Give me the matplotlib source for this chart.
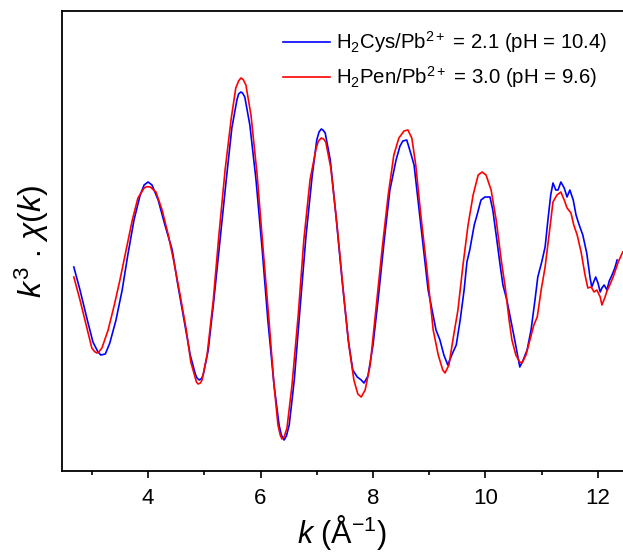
import matplotlib
matplotlib.use("Agg")
import matplotlib.pyplot as plt
from matplotlib.ticker import MultipleLocator, NullLocator

plt.rcParams['font.family'] = ['Liberation Sans', 'DejaVu Sans']
plt.rcParams['mathtext.fontset'] = 'custom'
plt.rcParams['mathtext.rm'] = 'Liberation Sans'
plt.rcParams['mathtext.it'] = 'Liberation Sans:italic'
plt.rcParams['mathtext.bf'] = 'Liberation Sans:bold'

# EXAFS k^3-weighted spectra (arbitrary units)
k_cys = [2.68, 2.79, 2.92, 3.02, 3.11, 3.16, 3.24, 3.32, 3.43, 3.54, 3.64, 3.75, 3.86, 3.93,
         4.00, 4.07, 4.18, 4.30, 4.43, 4.53, 4.64, 4.75, 4.84, 4.87, 4.91, 4.95, 4.98, 5.07,
         5.17, 5.28, 5.39, 5.49, 5.58, 5.61, 5.65, 5.68, 5.72, 5.81, 5.92, 6.03, 6.13, 6.24,
         6.33, 6.37, 6.42, 6.46, 6.51, 6.60, 6.70, 6.81, 6.92, 7.00, 7.04, 7.08, 7.11, 7.15,
         7.24, 7.34, 7.45, 7.56, 7.64, 7.72, 7.79, 7.84, 7.91, 8.00, 8.09, 8.20, 8.30, 8.41,
         8.48, 8.53, 8.60, 8.68, 8.73, 8.80, 8.89, 8.98, 9.05, 9.12, 9.19, 9.26, 9.33, 9.40,
         9.48, 9.55, 9.62, 9.67, 9.72, 9.80, 9.85, 9.92, 9.99, 10.08, 10.13, 10.19, 10.26,
         10.31, 10.38, 10.45, 10.52, 10.58, 10.61, 10.67, 10.74, 10.81, 10.88, 10.93, 11.00,
         11.06, 11.11, 11.16, 11.20, 11.25, 11.29, 11.34, 11.40, 11.45, 11.50, 11.56, 11.61,
         11.66, 11.73, 11.80, 11.86, 11.89, 11.93, 11.96, 12.00, 12.04, 12.07, 12.11, 12.16,
         12.20, 12.25, 12.30, 12.34]
chi_cys = [0.20, -0.95, -2.45, -3.55, -4.05, -4.20, -4.15, -3.60, -2.45, -0.95, 0.80, 2.55,
           3.80, 4.30, 4.45, 4.30, 3.55, 2.30, 1.05, -0.70, -2.45, -4.20, -5.15, -5.35, -5.45,
           -5.38, -5.20, -3.95, -1.45, 1.55, 4.55, 7.15, 8.55, 8.85, 8.95, 8.90, 8.70, 7.30,
           4.55, 1.05, -2.45, -5.70, -7.70, -8.20, -8.45, -8.25, -7.70, -5.45, -1.95, 1.80,
           4.80, 6.55, 6.95, 7.10, 7.05, 6.90, 5.55, 2.80, -0.45, -3.45, -4.95, -5.30, -5.45,
           -5.60, -5.25, -3.70, -1.45, 1.55, 4.05, 5.55, 6.25, 6.50, 6.55, 5.80, 5.30, 3.55,
           1.30, -0.95, -1.95, -2.95, -3.45, -4.20, -4.70, -4.20, -3.70, -2.45, -0.95, 0.45,
           1.05, 2.30, 2.80, 3.55, 3.70, 3.70, 3.05, 1.80, 0.30, -0.70, -1.45, -2.45, -3.45,
           -4.35, -4.80, -4.45, -3.95, -2.95, -1.45, -0.30, 0.45, 1.20, 2.55, 3.80, 4.40, 4.05,
           4.05, 4.45, 4.15, 3.70, 4.05, 3.55, 2.80, 2.35, 1.80, 0.90, -0.35, -0.80, -0.50,
           -0.30, -0.60, -1.05, -0.85, -0.70, -0.95, -0.50, -0.20, 0.15, 0.55]

k_pen = [2.68, 2.79, 2.92, 3.00, 3.05, 3.09, 3.13, 3.18, 3.29, 3.40, 3.50, 3.61, 3.72, 3.82,
         3.93, 3.98, 4.04, 4.14, 4.25, 4.36, 4.46, 4.57, 4.68, 4.76, 4.84, 4.86, 4.89, 4.93,
         4.96, 5.05, 5.16, 5.26, 5.37, 5.48, 5.56, 5.61, 5.65, 5.69, 5.74, 5.83, 5.94, 6.04,
         6.15, 6.24, 6.31, 6.35, 6.38, 6.42, 6.47, 6.56, 6.67, 6.77, 6.88, 6.99, 7.03, 7.08,
         7.12, 7.16, 7.25, 7.36, 7.47, 7.57, 7.66, 7.73, 7.79, 7.86, 7.95, 8.05, 8.16, 8.27,
         8.37, 8.46, 8.55, 8.62, 8.69, 8.76, 8.85, 8.96, 9.07, 9.16, 9.24, 9.28, 9.35, 9.42,
         9.51, 9.60, 9.69, 9.78, 9.87, 9.94, 10.01, 10.10, 10.19, 10.28, 10.35, 10.42, 10.47,
         10.54, 10.61, 10.65, 10.72, 10.79, 10.86, 10.92, 10.99, 11.06, 11.13, 11.20, 11.27,
         11.34, 11.40, 11.45, 11.52, 11.57, 11.63, 11.70, 11.77, 11.82, 11.88, 11.93, 11.98,
         12.04, 12.07, 12.12, 12.16, 12.21, 12.27, 12.36, 12.44]
chi_pen = [-0.30, -1.45, -2.95, -3.85, -4.03, -4.10, -4.03, -3.85, -2.95, -1.70, -0.45, 1.05,
           2.55, 3.65, 4.15, 4.22, 4.20, 3.95, 3.05, 1.80, 0.45, -1.20, -2.95, -4.55, -5.35,
           -5.55, -5.65, -5.60, -5.45, -4.20, -1.45, 1.80, 5.05, 7.65, 9.15, 9.50, 9.65, 9.58,
           9.30, 7.80, 4.80, 1.30, -2.45, -5.70, -7.70, -8.20, -8.40, -8.30, -7.85, -5.70,
           -2.20, 1.55, 4.55, 6.15, 6.50, 6.65, 6.60, 6.45, 5.15, 2.30, -0.95, -3.70, -5.45,
           -6.15, -6.30, -5.95, -4.70, -1.95, 1.05, 3.80, 5.80, 6.65, 7.00, 7.05, 6.65, 5.30,
           2.80, 0.05, -2.95, -4.20, -4.95, -5.10, -4.70, -3.45, -1.95, 0.30, 2.30, 3.80, 4.80,
           4.95, 4.80, 4.05, 2.55, 0.55, -0.80, -2.45, -3.45, -4.20, -4.55, -4.60, -4.20, -3.45,
           -2.70, -2.30, -0.95, 0.20, 1.80, 3.45, 3.80, 3.95, 3.55, 3.15, 2.90, 2.30, 1.80,
           0.95, -0.20, -0.85, -0.80, -1.05, -0.95, -1.30, -1.70, -1.35, -1.00, -0.70, -0.30,
           0.45, 0.95]

labels = ["H$_2$Cys/Pb$^{2+}$ = 2.1 (pH = 10.4)",
          "H$_2$Pen/Pb$^{2+}$ = 3.0 (pH = 9.6)"]
colors = ["#0000ff", "#ff0000"]

fig = plt.figure(figsize=(6.23, 5.56), dpi=100)
ax = fig.add_axes([62 / 623, 85 / 556, 1 - 62 / 623, 460 / 556])

ax.plot(k_cys, chi_cys, color=colors[0], lw=1.2, label=labels[0])
ax.plot(k_pen, chi_pen, color=colors[1], lw=1.2, label=labels[1])

ax.set_xlim(2.47, 12.445)
ax.set_ylim(-10.0, 13.0)

ax.spines['right'].set_visible(False)
for s in ('left', 'bottom', 'top'):
    ax.spines[s].set_linewidth(1.3)

ax.xaxis.set_major_locator(MultipleLocator(2))
ax.xaxis.set_minor_locator(MultipleLocator(1))
ax.yaxis.set_major_locator(NullLocator())
ax.yaxis.set_minor_locator(NullLocator())
ax.tick_params(axis='x', which='major', direction='out', length=5, width=1.2,
               labelsize=16, pad=7, top=False)
ax.tick_params(axis='x', which='minor', direction='out', length=3, width=1.2, top=False)

ax.set_xlabel(r"$k$ (Å$^{-1}$)", fontsize=22, labelpad=3)
ax.set_ylabel(r"$k^3$ . $\chi(k)$", fontsize=23, labelpad=8)

leg = ax.legend(loc='upper right', frameon=False, fontsize=14.7, handlelength=2.3,
                handletextpad=0.3, labelspacing=0.45, borderaxespad=0.3,
                bbox_to_anchor=(0.998, 0.992))

fig.savefig("out.png", dpi=100)
